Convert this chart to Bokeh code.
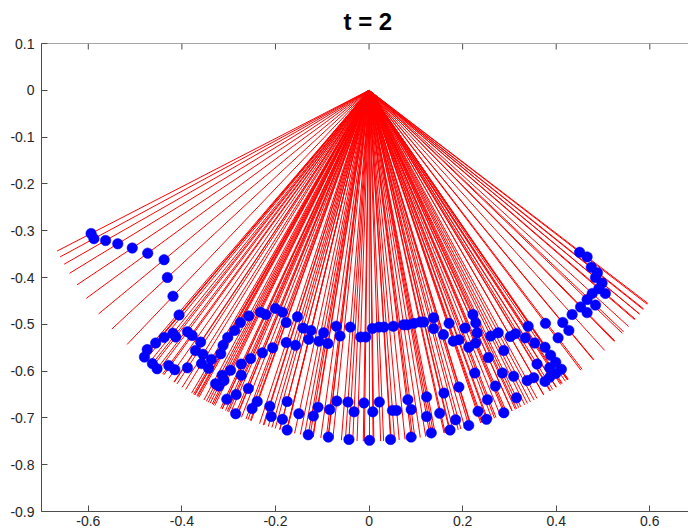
import numpy as np
from bokeh.plotting import figure
from bokeh.models import Range1d, FixedTicker, ColumnDataSource, Span
from bokeh.embed import file_html
from bokeh.resources import INLINE

title_text = "t = 2"
rod_length = 0.75
x_ticks = [-0.6, -0.4, -0.2, 0, 0.2, 0.4, 0.6]
y_ticks = [-0.9, -0.8, -0.7, -0.6, -0.5, -0.4, -0.3, -0.2, -0.1, 0, 0.1]
x_tick_labels = ["-0.6", "-0.4", "-0.2", "0", "0.2", "0.4", "0.6"]
y_tick_labels = ["-0.9", "-0.8", "-0.7", "-0.6", "-0.5", "-0.4", "-0.3", "-0.2", "-0.1", "0", "0.1"]

# bob positions
bob_x = [
    -0.594, -0.588, -0.563, -0.537, -0.506, -0.473, -0.438, -0.431, -0.419, -0.406,
    -0.474, -0.480, -0.456, -0.438, -0.419, -0.413, -0.388, -0.378, -0.360, -0.463,
    -0.453, -0.428, -0.415, -0.388, -0.371, -0.355, -0.337, -0.358, -0.317, -0.312,
    -0.302, -0.287, -0.275, -0.257, -0.232, -0.221, -0.200, -0.185, -0.153, -0.177,
    -0.177, -0.157, -0.206, -0.228, -0.253, -0.273, -0.273, -0.296, -0.314, -0.310,
    -0.328, -0.321, -0.343, -0.258, -0.284, -0.304, -0.285, -0.239, -0.250, -0.212,
    -0.209, -0.185, -0.175, -0.175, -0.150,
    -0.141, -0.124, -0.097, -0.070, -0.040, -0.062, -0.129, -0.107, -0.088, -0.018,
    -0.007, 0.007, 0.021, 0.032, 0.052, 0.074, 0.082, 0.096, 0.110, 0.117,
    0.138, 0.138, 0.159, 0.171, 0.180, 0.192,
    -0.130, -0.119, -0.109, -0.087, -0.084, -0.069, -0.045, -0.043, -0.032, -0.011,
    0.001, 0.008, 0.022, 0.046, 0.050, 0.059, 0.083, 0.090, 0.090, 0.123,
    0.123, 0.133, 0.151, 0.160, 0.173, 0.185, 0.192,
    0.222, 0.228, 0.205, 0.231, 0.213, 0.228, 0.260, 0.276, 0.302, 0.313,
    0.334, 0.340, 0.354, 0.376, 0.377, 0.404, 0.414, 0.427, 0.434, 0.452,
    0.388, 0.359, 0.399, 0.386, 0.411, 0.399, 0.386, 0.376, 0.352, 0.338,
    0.288, 0.255, 0.285, 0.309, 0.226, 0.270, 0.315, 0.253, 0.288, 0.233,
    0.251, 0.213,
    0.450, 0.466, 0.475, 0.488, 0.484, 0.498, 0.491, 0.505, 0.477, 0.466,
    0.484, 0.466,
]
bob_y = [
    -0.306, -0.317, -0.321, -0.328, -0.337, -0.348, -0.362, -0.400, -0.440, -0.480,
    -0.554, -0.570, -0.540, -0.528, -0.519, -0.527, -0.516, -0.524, -0.538, -0.584,
    -0.595, -0.588, -0.597, -0.593, -0.556, -0.564, -0.575, -0.584, -0.563, -0.545,
    -0.528, -0.513, -0.496, -0.482, -0.474, -0.479, -0.466, -0.474, -0.484, -0.496,
    -0.539, -0.545, -0.550, -0.561, -0.573, -0.585, -0.609, -0.598, -0.609, -0.620,
    -0.627, -0.632, -0.594, -0.637, -0.650, -0.660, -0.691, -0.665, -0.680, -0.675,
    -0.697, -0.703, -0.665, -0.726, -0.691,
    -0.508, -0.513, -0.518, -0.504, -0.506, -0.525, -0.532, -0.536, -0.541, -0.527,
    -0.527, -0.509, -0.506, -0.506, -0.504, -0.501, -0.501, -0.498, -0.495, -0.495,
    -0.486, -0.509, -0.522, -0.498, -0.536, -0.533,
    -0.736, -0.696, -0.677, -0.741, -0.682, -0.664, -0.666, -0.746, -0.687, -0.668,
    -0.748, -0.687, -0.666, -0.746, -0.684, -0.684, -0.661, -0.682, -0.741, -0.655,
    -0.697, -0.732, -0.690, -0.647, -0.726, -0.704, -0.634,
    -0.479, -0.497, -0.508, -0.518, -0.549, -0.540, -0.525, -0.518, -0.526, -0.520,
    -0.529, -0.504, -0.540, -0.549, -0.498, -0.529, -0.496, -0.513, -0.479, -0.463,
    -0.566, -0.585, -0.581, -0.593, -0.596, -0.605, -0.613, -0.622, -0.614, -0.620,
    -0.556, -0.571, -0.604, -0.611, -0.604, -0.632, -0.657, -0.661, -0.689, -0.686,
    -0.703, -0.716,
    -0.346, -0.356, -0.378, -0.390, -0.400, -0.412, -0.424, -0.434, -0.434, -0.447,
    -0.459, -0.475,
]

bx = np.array(bob_x)
by = np.array(bob_y)
r = np.hypot(bx, by)
src = ColumnDataSource(dict(
    x0=np.zeros_like(bx), y0=np.zeros_like(by),
    x1=rod_length * bx / r, y1=rod_length * by / r,
    bx=bx, by=by,
))

Y_TOP = 0.1
p = figure(width=688, height=532,
           x_range=Range1d(-0.7, 0.6827), y_range=Range1d(-0.9, Y_TOP),
           min_border_left=41, min_border_right=0, min_border_top=43, min_border_bottom=21,
           output_backend="svg", toolbar_location=None)
p.outline_line_color = None
p.xgrid.visible = False
p.ygrid.visible = False
p.background_fill_color = "white"
p.border_fill_color = "white"

axis_col = "#4d4d4d"
label_col = "#262626"
font = "Liberation Sans"

p.segment(x0="x0", y0="y0", x1="x1", y1="y1", source=src, line_color="#ff0000", line_width=1)
p.scatter(x="bx", y="by", source=src, size=10.5, fill_color="#0000ff", line_color="#0000ff", line_width=0.5)

# box top edge with inward ticks (no labels), as in the reference
p.add_layout(Span(location=Y_TOP, dimension="width", line_color=axis_col, line_width=1))
tick_len = 6 / 468.0
p.segment(x0=x_ticks, y0=[Y_TOP] * len(x_ticks), x1=x_ticks, y1=[Y_TOP - tick_len] * len(x_ticks),
          line_color=axis_col, line_width=1)

xt = FixedTicker(ticks=x_ticks)
yt = FixedTicker(ticks=y_ticks)

for ax in p.xaxis:
    ax.ticker = xt
    ax.major_label_overrides = {t: l for t, l in zip(x_ticks, x_tick_labels)}
    ax.major_label_standoff = 4
for ax in p.yaxis:
    ax.ticker = yt
    ax.major_label_overrides = {t: l for t, l in zip(y_ticks, y_tick_labels)}
    ax.major_label_standoff = 7

for ax in [p.xaxis[0], p.yaxis[0]]:
    ax.axis_line_color = axis_col
    ax.major_tick_line_color = axis_col
    ax.major_tick_out = 0
    ax.major_tick_in = 6
    ax.minor_tick_line_color = None
    ax.major_label_text_font = font
    ax.major_label_text_font_size = "14px"
    ax.major_label_text_color = label_col

p.title.text = title_text
p.title.align = "left"
p.title.offset = 302
p.title.text_font = font
p.title.text_font_size = "24px"
p.title.text_font_style = "bold"
p.title.text_color = "#000000"
p.title.standoff = 14
p.title.vertical_align = "top"

open("out.html", "w").write(file_html(p, INLINE))
